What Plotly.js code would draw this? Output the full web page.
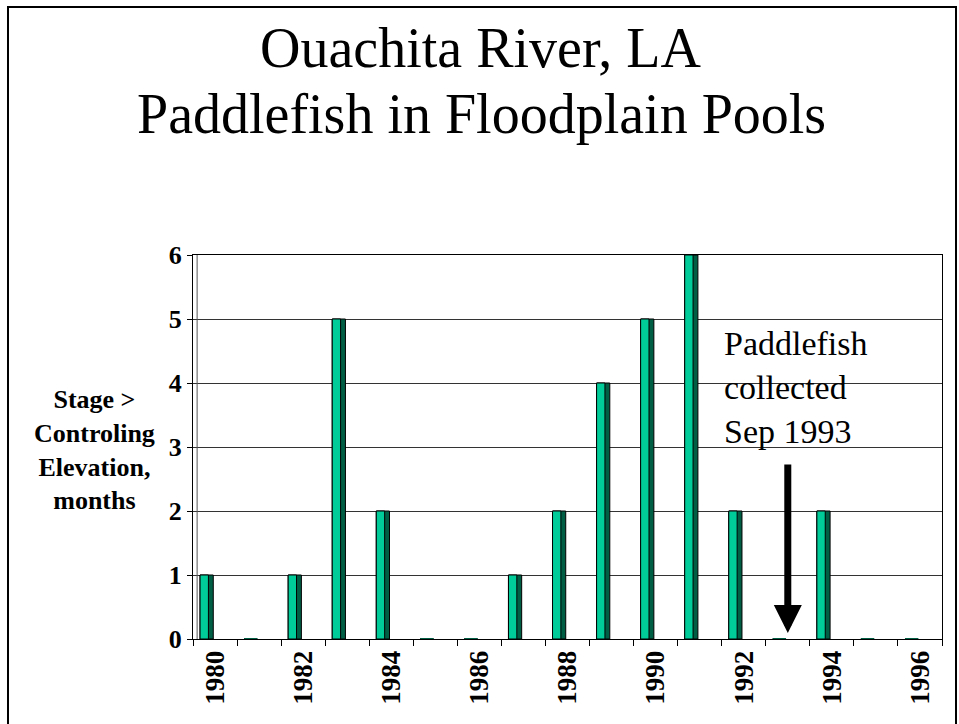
<!DOCTYPE html>
<html>
<head>
<meta charset="utf-8">
<script src="https://cdn.plot.ly/plotly-3.0.1.min.js"></script>
<style>
html,body{margin:0;padding:0;background:#fff;}
#chart{width:959px;height:724px;}
</style>
</head>
<body>
<div id="chart"></div>
<script>
// ---- data ----
const years = [1980,1981,1982,1983,1984,1985,1986,1987,1988,1989,1990,1991,1992,1993,1994,1995,1996];
const months = [1,0,1,5,2,0,0,1,2,4,5,6,2,0,2,0,0];
const tickYears = [1980,1982,1984,1986,1988,1990,1992,1994,1996];
const tickLabels = ['1980','1982','1984','1986','1988','1990','1992','1994','1996'];
const titleLine1 = 'Ouachita River, LA';
const titleLine2 = 'Paddlefish in Floodplain Pools';
const yTitle = 'Stage &gt;<br>Controling<br>Elevation,<br>months';
const noteText = 'Paddlefish<br>collected<br>Sep 1993';
const arrowYear = 1993;

const serifFam = 'Liberation Serif';

const sideBars = {
  type: 'bar', x: years, y: months,
  offset: -0.34, width: 0.30,
  marker: {color: '#005e45', line: {color: '#000', width: 1}},
  hoverinfo: 'skip', showlegend: false
};
const frontBars = {
  type: 'bar', x: years, y: months,
  offset: -0.34, width: 0.19,
  marker: {color: '#00cc99', line: {color: '#000', width: 1}},
  showlegend: false
};
const zeroYears = years.filter((_, i) => months[i] === 0);
const zeroVals = zeroYears.map(() => 0);
const zeroTops = {
  type: 'bar', x: zeroYears, y: zeroVals, base: zeroVals,
  offset: -0.34, width: 0.30,
  marker: {color: '#00cc99', line: {color: '#005e45', width: 2}},
  hoverinfo: 'skip', showlegend: false
};

const layout = {
  width: 959, height: 724,
  margin: {l: 193, r: 17, t: 255, b: 85},
  paper_bgcolor: '#fff', plot_bgcolor: '#fff',
  barmode: 'overlay',
  font: {family: serifFam, color: '#000'},
  xaxis: {
    type: 'linear', range: [1979.5, 1996.5],
    tickvals: tickYears, ticktext: tickLabels,
    tickangle: -90, ticks: '', ticklen: 6,
    tickfont: {family: serifFam, size: 27, color: '#000', weight: 'bold'},
    showgrid: false, zeroline: false,
    showline: true, linecolor: '#000', linewidth: 1, mirror: true,
    minor: {tick0: 1979.5, dtick: 1, ticks: 'outside', ticklen: 6, tickcolor: '#000', showgrid: false},
    fixedrange: true
  },
  yaxis: {
    range: [0, 6], dtick: 1, tick0: 0,
    ticks: 'outside', ticklen: 5, tickcolor: '#000',
    tickfont: {family: serifFam, size: 26, color: '#000', weight: 'bold'},
    showgrid: true, gridcolor: '#333', gridwidth: 1,
    zeroline: false,
    showline: true, linecolor: '#000', linewidth: 1, mirror: true,
    fixedrange: true
  },
  shapes: [
    {type: 'rect', xref: 'paper', yref: 'paper', x0: -0.247, x1: 1.0187, y0: -0.25, y1: 1.646,
     line: {color: '#000', width: 2}},
    {type: 'line', xref: 'paper', yref: 'paper', x0: 0.0055, x1: 0.0055, y0: 0, y1: 1,
     line: {color: '#555', width: 1}}
  ],
  annotations: [
    {text: titleLine1, xref: 'paper', yref: 'paper', x: 0.385, y: 1.539,
     xanchor: 'center', yanchor: 'middle', showarrow: false,
     font: {family: serifFam, size: 56, color: '#000'}},
    {text: titleLine2, xref: 'paper', yref: 'paper', x: 0.385, y: 1.367,
     xanchor: 'center', yanchor: 'middle', showarrow: false,
     font: {family: serifFam, size: 56, color: '#000'}},
    {text: yTitle, xref: 'paper', yref: 'paper', x: -0.131, y: 0.492,
     xanchor: 'center', yanchor: 'middle', showarrow: false, align: 'center',
     font: {family: serifFam, size: 26, color: '#000', weight: 'bold'}},
    {text: noteText, xref: 'paper', yref: 'paper', x: 0.706, y: 0.656,
     xanchor: 'left', yanchor: 'middle', showarrow: false, align: 'left',
     font: {family: serifFam, size: 34, color: '#000'}},
    {text: '', x: arrowYear, y: 0.094, ax: arrowYear, ay: 2.75, axref: 'x', ayref: 'y',
     xref: 'x', yref: 'y', showarrow: true, arrowhead: 2, arrowsize: 0.8, arrowwidth: 7,
     arrowcolor: '#000', standoff: 0, startstandoff: 0}
  ]
};

Plotly.newPlot('chart', [sideBars, frontBars, zeroTops], layout, {displayModeBar: false, staticPlot: true});
</script>
</body>
</html>
